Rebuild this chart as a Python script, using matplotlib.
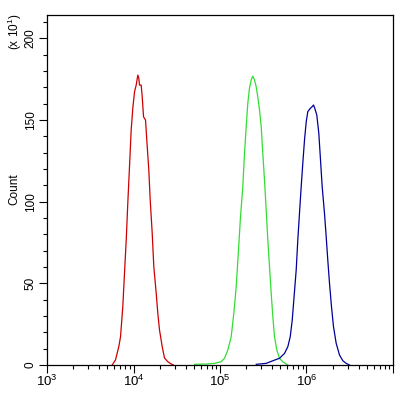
import numpy as np
import matplotlib.pyplot as plt
from matplotlib.ticker import LogLocator, FixedLocator, MultipleLocator, FuncFormatter

plt.rcParams['font.family'] = ['Liberation Sans', 'DejaVu Sans']
plt.rcParams['mathtext.fontset'] = 'custom'
plt.rcParams['mathtext.rm'] = 'Liberation Sans'
plt.rcParams['mathtext.it'] = 'Liberation Sans'

# fluorescence intensity / count (x10)
red_x = [5675, 6190, 6760, 7080, 7520, 7870, 8240, 8590, 8990, 9400, 9820,
         10280, 10740, 11220, 11510, 11730, 12270, 12610, 13060, 13770, 14250,
         15030, 15600, 16450, 17170, 18290, 19090, 19990, 21480, 22810, 24930,
         27310, 29000]
red_y = [0, 3.1, 11.2, 17.3, 35.7, 56.3, 76.5, 99.1, 121.4, 143.9, 157.3,
         167.3, 171.4, 177.5, 175.7, 171.4, 171.4, 164.2, 152.0, 150.0, 137.7,
         119.4, 101.0, 80.8, 60.2, 44.1, 31.8, 21.4, 11.2, 4.3, 2.0,
         0.6, 0]

green_x = [50700, 69200, 86400, 103200, 112700, 123100, 134700, 144400, 153900,
           163600, 172600, 183500, 192000, 200800, 209600, 219100, 229400,
           239400, 250600, 262000, 273400, 286200, 299500, 312400, 326800,
           342000, 357100, 373600, 390600, 408000, 426600, 453700, 487300,
           532500, 582300, 608000]
green_y = [0.4, 0.6, 1.0, 2.0, 4.1, 9.2, 17.3, 31.6, 47.9,
           70.4, 90.8, 109.2, 129.6, 145.9, 160.2, 169.4, 174.5,
           176.9, 174.5, 170.4, 164.2, 156.1, 145.9, 129.6, 113.3,
           94.9, 76.5, 60.2, 43.9, 29.6, 17.3, 9.2, 4.1,
           2.0, 0.6, 0]

blue_x = [262300, 342100, 407800, 487300, 556900, 608300, 648600, 684000,
          713500, 760200, 793200, 829800, 868300, 906300, 948200, 992500,
          1035000, 1104000, 1165000, 1206000, 1248000, 1316000, 1388000,
          1452000, 1518000, 1614000, 1689000, 1762000, 1845000, 1945000,
          2051000, 2203000, 2408000, 2632000, 2877000, 3143000]
blue_y = [0.4, 1.0, 2.6, 4.1, 7.1, 11.2, 17.3, 27.5,
          39.8, 58.2, 76.5, 92.9, 109.2, 123.5, 137.7, 148.9,
          155.1, 157.1, 158.2, 159.2, 157.1, 153.0, 141.8,
          125.5, 109.2, 92.9, 78.6, 64.3, 50.0, 35.7,
          23.5, 13.3, 6.1, 2.6, 1.0, 0]

y_major = [0, 50, 100, 150, 200]

fig = plt.figure(figsize=(4.12, 3.94), dpi=100)
ax = fig.add_axes([47 / 412, 1 - 365 / 394, 346 / 412, 350 / 394])

ax.plot(red_x, red_y, color='#cc0000', lw=0.9)
ax.plot(green_x, green_y, color='#33dd33', lw=0.9)
ax.plot(blue_x, blue_y, color='#000099', lw=0.9)

ax.set_xscale('log')
ax.set_xlim(1e3, 1e7)
ax.set_ylim(0, 214.3)

ax.xaxis.set_major_locator(LogLocator(base=10, numticks=10))
ax.xaxis.set_minor_locator(LogLocator(base=10, subs=np.arange(2, 10), numticks=20))
ax.xaxis.set_major_formatter(FuncFormatter(
    lambda v, p: '$10^{%d}$' % round(np.log10(v)) if round(np.log10(v)) < 7 else ''))
ax.yaxis.set_major_locator(FixedLocator(y_major))
ax.yaxis.set_minor_locator(MultipleLocator(10))

ax.tick_params(which='major', length=5.5, width=0.8, labelsize=8.5, pad=2)
ax.tick_params(which='minor', length=3, width=0.8)
ax.tick_params(axis='x', labelsize=9.5, pad=1)
for lab in ax.get_yticklabels():
    lab.set_rotation(90)
    lab.set_va('center')

for s in ax.spines.values():
    s.set_linewidth(0.9)

fig.text(14.5 / 412, 1 - 189 / 394, 'Count', rotation=90, fontsize=8.5,
         ha='center', va='center')
fig.text(15 / 412, 1 - 32 / 394, '(x 10$^{1}$)', rotation=90, fontsize=8.5,
         ha='center', va='center')

fig.savefig('out.png', dpi=100)
